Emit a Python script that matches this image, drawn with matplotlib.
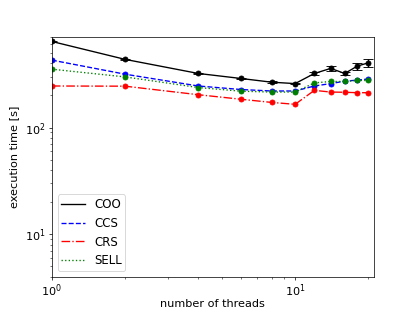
import matplotlib
matplotlib.use("Agg")
import matplotlib.pyplot as plt
from matplotlib.lines import Line2D

plt.rcParams['font.size'] = 12.5

threads = [1, 2, 4, 6, 8, 10, 12, 14, 16, 18, 20]
coo = [640, 435, 321, 288, 266, 258, 321, 358, 321, 376, 404]
coo_err = [5, 5, 4, 4, 4, 4, 10, 22, 12, 28, 32]
ccs = [428, 316, 245, 227, 220, 220, 245, 258, 272, 278, 285]
crs = [245, 244, 203, 184, 172, 165, 223, 215, 214, 212, 212]
sell = [352, 298, 237, 219, 215, 215, 262, 270, 270, 276, 276]

fig, ax = plt.subplots(figsize=(415/65, 311/65), dpi=65)
ms = 5.5
ax.errorbar(threads, coo, yerr=coo_err, color='k', linestyle='-', marker='o',
            markersize=ms, capsize=5, label='COO')
ax.plot(threads, ccs, color='b', linestyle='--', marker='o', markersize=ms, label='CCS')
ax.plot(threads, crs, color='r', linestyle='-.', marker='o', markersize=ms, label='CRS')
ax.plot(threads, sell, color='g', linestyle=':', marker='o', markersize=ms, label='SELL')
ax.set_xscale('log')
ax.set_yscale('log')
ax.set_xlim(1, 21)
ax.set_ylim(4, 700)
ax.tick_params(axis='x', which='both', pad=2.5)
ax.set_xlabel('number of threads', labelpad=0.5)
ax.set_ylabel('execution time [s]', labelpad=6.5)
hs = [Line2D([], [], color='k', linestyle='-'),
      Line2D([], [], color='b', linestyle='--'),
      Line2D([], [], color='r', linestyle='-.'),
      Line2D([], [], color='g', linestyle=':')]
ax.legend(hs, ['COO', 'CCS', 'CRS', 'SELL'], loc='lower left', borderpad=0.3,
          fontsize=13)
fig.savefig('out.png', dpi=65)
